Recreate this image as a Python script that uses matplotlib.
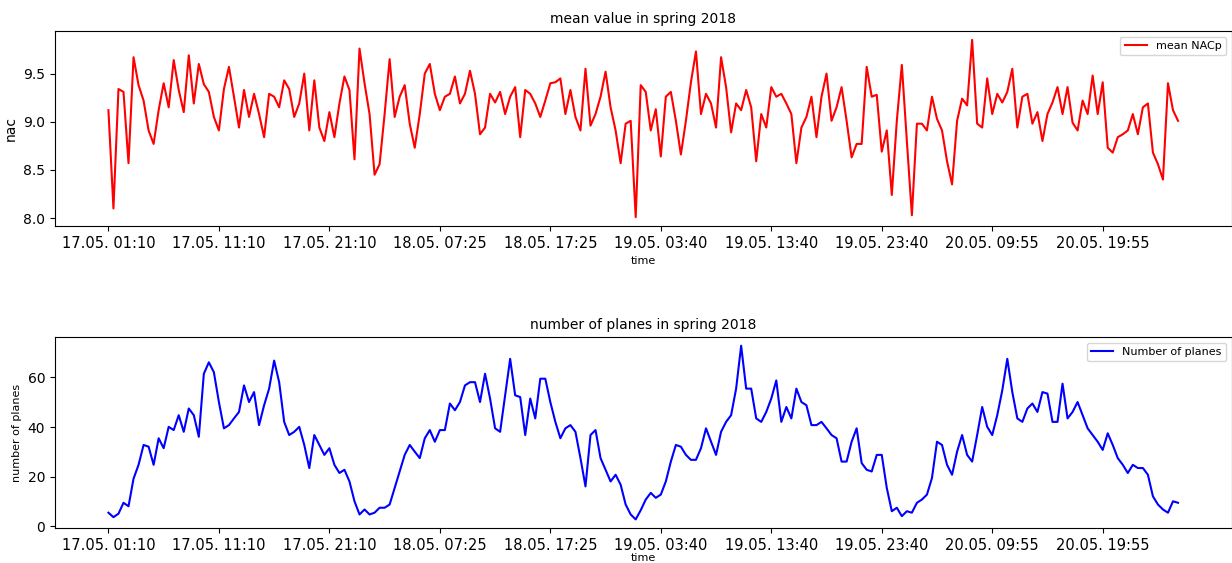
import numpy as np
import matplotlib
matplotlib.use("Agg")
import matplotlib.pyplot as plt

# x tick labels (one every 22 samples)
tick_labels = ["17.05. 01:10", "17.05. 11:10", "17.05. 21:10", "18.05. 07:25",
               "18.05. 17:25", "19.05. 03:40", "19.05. 13:40", "19.05. 23:40",
               "20.05. 09:55", "20.05. 19:55"]
samples_per_tick = 22

mean_nacp = [
    9.12, 8.10, 9.34, 9.31, 8.57, 9.67, 9.38, 9.22, 8.91, 8.77,
    9.12, 9.40, 9.15, 9.64, 9.33, 9.10, 9.69, 9.19, 9.60, 9.39,
    9.31, 9.05, 8.91, 9.34, 9.57, 9.26, 8.94, 9.33, 9.05, 9.29,
    9.08, 8.84, 9.29, 9.26, 9.15, 9.43, 9.34, 9.05, 9.19, 9.50,
    8.91, 9.43, 8.94, 8.80, 9.10, 8.84, 9.19, 9.47, 9.33, 8.61,
    9.76, 9.40, 9.08, 8.45, 8.56, 9.08, 9.65, 9.05, 9.26, 9.38,
    8.98, 8.73, 9.08, 9.50, 9.60, 9.29, 9.12, 9.26, 9.29, 9.47,
    9.19, 9.29, 9.53, 9.29, 8.87, 8.94, 9.29, 9.20, 9.31, 9.08,
    9.26, 9.36, 8.84, 9.33, 9.29, 9.19, 9.05, 9.22, 9.40, 9.41,
    9.45, 9.08, 9.33, 9.05, 8.91, 9.55, 8.96, 9.08, 9.26, 9.52,
    9.15, 8.91, 8.57, 8.98, 9.01, 8.01, 9.38, 9.31, 8.91, 9.13,
    8.64, 9.26, 9.31, 9.01, 8.66, 9.01, 9.41, 9.73, 9.08, 9.29,
    9.19, 8.94, 9.67, 9.36, 8.89, 9.19, 9.12, 9.33, 9.15, 8.59,
    9.08, 8.94, 9.36, 9.26, 9.29, 9.19, 9.08, 8.57, 8.94, 9.05,
    9.26, 8.84, 9.26, 9.50, 9.01, 9.15, 9.36, 9.01, 8.63, 8.77,
    8.77, 9.57, 9.26, 9.28, 8.69, 8.91, 8.24, 9.01, 9.59, 8.80,
    8.03, 8.98, 8.98, 8.91, 9.26, 9.03, 8.91, 8.59, 8.35, 9.01,
    9.24, 9.17, 9.85, 8.98, 8.94, 9.45, 9.08, 9.29, 9.20, 9.31,
    9.55, 8.94, 9.26, 9.29, 8.98, 9.10, 8.80, 9.08, 9.20, 9.36,
    9.08, 9.36, 8.99, 8.91, 9.22, 9.08, 9.48, 9.08, 9.41, 8.73,
    8.68, 8.84, 8.87, 8.91, 9.08, 8.87, 9.15, 9.19, 8.68, 8.56,
    8.40, 9.40, 9.12, 9.01,
]

num_planes = [
    5.5, 3.7, 5.1, 9.5, 8.1, 19.2, 24.8, 32.8, 32.1, 24.8,
    35.5, 31.5, 40.1, 38.8, 44.8, 38.1, 47.5, 44.8, 36.1, 61.5,
    66.1, 62.1, 50.1, 39.5, 40.8, 43.5, 46.1, 56.8, 50.1, 54.1,
    40.8, 48.8, 55.5, 66.8, 58.1, 42.1, 36.8, 38.1, 40.1, 32.8,
    23.5, 36.8, 32.8, 28.8, 31.5, 24.8, 21.5, 22.8, 18.1, 10.1,
    4.8, 6.8, 4.8, 5.5, 7.5, 7.5, 8.8, 15.5, 22.1, 28.8,
    32.8, 30.1, 27.5, 35.5, 38.8, 34.1, 38.8, 38.8, 49.5, 46.8,
    50.1, 56.8, 58.1, 58.1, 50.1, 61.5, 51.5, 39.5, 38.1, 52.8,
    67.5, 52.8, 52.1, 36.8, 51.5, 43.5, 59.5, 59.5, 50.1, 42.1,
    35.5, 39.5, 40.8, 38.1, 27.5, 16.1, 36.8, 38.8, 27.5, 22.8,
    18.1, 20.8, 16.8, 8.8, 4.8, 2.8, 6.5, 10.8, 13.5, 11.5,
    12.8, 18.1, 26.1, 32.8, 32.1, 28.8, 26.8, 26.8, 31.5, 39.5,
    34.1, 28.8, 38.1, 42.1, 44.8, 55.5, 72.8, 55.5, 55.5, 43.5,
    42.1, 46.1, 51.5, 58.8, 42.1, 48.1, 43.5, 55.5, 50.1, 48.8,
    40.8, 40.8, 42.1, 39.5, 36.8, 35.5, 26.1, 26.1, 34.1, 39.5,
    25.5, 22.8, 22.1, 28.8, 28.8, 15.5, 6.1, 7.5, 4.1, 6.1,
    5.5, 9.5, 10.8, 12.8, 19.5, 34.1, 32.8, 24.8, 20.8, 30.1,
    36.8, 28.8, 26.1, 36.8, 48.1, 40.1, 36.8, 44.8, 54.8, 67.5,
    54.1, 43.5, 42.1, 47.5, 49.5, 46.1, 54.1, 53.5, 42.1, 42.1,
    57.5, 43.5, 46.1, 50.1, 44.8, 39.5, 36.8, 34.1, 30.8, 37.5,
    32.8, 27.5, 24.8, 21.5, 24.8, 23.5, 23.5, 20.8, 12.1, 8.8,
    6.8, 5.5, 10.1, 9.5,
]

x = np.arange(len(mean_nacp))
tick_pos = np.arange(len(tick_labels)) * samples_per_tick

fig = plt.figure(figsize=(12.32, 5.63), dpi=100)
ax1 = fig.add_axes([0.0446, 0.5986, 0.9550, 0.3463])
ax2 = fig.add_axes([0.0446, 0.0620, 0.9550, 0.3394])

ax1.plot(x, mean_nacp, color="red", lw=1.5, label="mean NACp")
ax1.set_title("mean value in spring 2018", fontsize=10)
ax1.set_ylabel("nac", fontsize=10)
ax1.set_xlabel("time", fontsize=8)
ax1.set_xticks(tick_pos)
ax1.set_xticklabels(tick_labels, fontsize=10.5)
ax1.set_yticks([8.0, 8.5, 9.0, 9.5])
ax1.tick_params(axis="y", labelsize=10)
ax1.legend(loc="upper right", fontsize=8)

ax2.plot(x, num_planes, color="blue", lw=1.5, label="Number of planes")
ax2.set_title("number of planes in spring 2018", fontsize=10)
ax2.set_ylabel("number of planes", fontsize=8)
ax2.set_xlabel("time", fontsize=8, labelpad=0)
ax2.set_xticks(tick_pos)
ax2.set_xticklabels(tick_labels, fontsize=10.5)
ax2.set_yticks([0, 20, 40, 60])
ax2.tick_params(axis="y", labelsize=10)
ax2.legend(loc="upper right", fontsize=8)

fig.savefig("out.png", dpi=100)
